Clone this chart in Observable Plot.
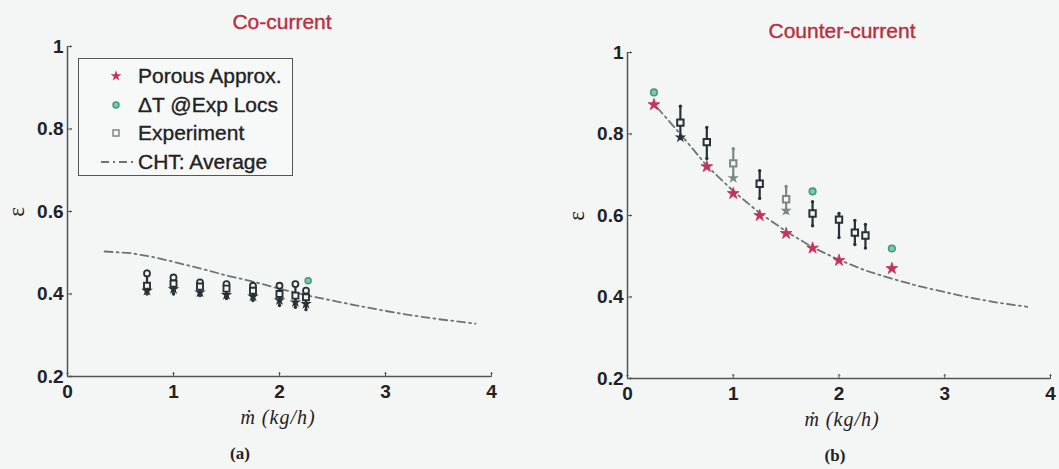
<!DOCTYPE html>
<html>
<head>
<meta charset="utf-8">
<script src="https://cdn.jsdelivr.net/npm/d3@7"></script>
<script src="https://cdn.jsdelivr.net/npm/@observablehq/plot@0.6"></script>
<style>
  html, body { margin: 0; padding: 0; background: #f4f5f5; }
  #root { position: relative; width: 1059px; height: 469px; overflow: hidden; font-family: "Liberation Sans", Arial, sans-serif; }
  .abs { position: absolute; }
  .title { color: #b9303f; font-size: 21px; transform: translateX(-50%); white-space: nowrap; -webkit-text-stroke: 0.4px #b9303f; }
  .xlab { font-family: "Liberation Serif", "DejaVu Serif", serif; font-style: italic; font-size: 20px; line-height: 1.1; color: #222; transform: translateX(-50%); white-space: nowrap; letter-spacing: 1px; }
  .ylab { font-family: "Liberation Serif", "DejaVu Serif", serif; font-size: 23px; color: #222; transform: translate(-50%, -50%) rotate(-90deg); line-height: 1; }
  .sub { font-family: "Liberation Serif", "DejaVu Serif", serif; font-weight: bold; font-size: 17px; line-height: 1.1; color: #222; transform: translateX(-50%); }
  .legend { width: 213px; height: 116px; border: 1.5px solid #555; background: #f7f8f8; }
  .legend .row { position: absolute; left: 0; height: 24px; display: flex; align-items: center; font-size: 21px; color: #222; -webkit-text-stroke: 0.35px #222; }
  .legend .row svg { position: absolute; left: 22px; }
  .legend .row span { position: absolute; left: 59px; white-space: nowrap; }
</style>
</head>
<body>
<div id="root"></div>
<script>
// ---------- data ----------
const xTicks = [0, 1, 2, 3, 4];
const yTicks = [0.2, 0.4, 0.6, 0.8, 1];

// (a) Co-current
const coTitle = "Co-current";
const coM      = [0.75, 1.0, 1.25, 1.5, 1.75, 2.0, 2.15, 2.25];
const coExp    = [0.420, 0.425, 0.418, 0.413, 0.408, 0.400, 0.396, 0.392];
const coExpHi  = [0.455, 0.445, 0.432, 0.428, 0.423, 0.425, 0.428, 0.412];
const coExpLo  = [0.400, 0.400, 0.396, 0.389, 0.384, 0.372, 0.368, 0.362];
const coDTm    = [0.75, 1.0, 1.25, 1.5, 1.75, 2.0, 2.15, 2.25];
const coDT     = [0.450, 0.440, 0.428, 0.424, 0.420, 0.420, 0.424, 0.408];
const coDTextraM = [2.27];
const coDTextra  = [0.432];
const coPorM   = [0.75, 1.0, 1.25, 1.5, 1.75, 2.0, 2.15, 2.25];
const coPor    = [0.408, 0.412, 0.404, 0.398, 0.394, 0.385, 0.380, 0.376];
const coChtM   = [0.35, 0.6, 0.8, 1.0, 1.25, 1.5, 1.75, 2.0, 2.25, 2.5, 2.75, 3.0, 3.25, 3.5, 3.85];
const coCht    = [0.503, 0.499, 0.490, 0.478, 0.462, 0.445, 0.430, 0.413, 0.397, 0.384, 0.371, 0.359, 0.348, 0.339, 0.328];

// (b) Counter-current
const ctTitle = "Counter-current";
const ctPorM  = [0.25, 0.75, 1.0, 1.25, 1.5, 1.75, 2.0, 2.5];
const ctPor   = [0.872, 0.720, 0.654, 0.600, 0.556, 0.520, 0.490, 0.470];
const ctDTm   = [0.25, 1.75, 2.5];
const ctDT    = [0.902, 0.659, 0.519];
const ctExpM  = [0.5, 0.75, 1.0, 1.25, 1.5, 1.75, 2.0, 2.15, 2.25];
const ctExp   = [0.828, 0.780, 0.728, 0.678, 0.640, 0.605, 0.590, 0.558, 0.551];
const ctExpHi = [0.868, 0.816, 0.764, 0.710, 0.671, 0.634, 0.605, 0.588, 0.578];
const ctExpLo = [0.789, 0.740, 0.690, 0.642, 0.607, 0.575, 0.546, 0.529, 0.520];
const ctRun   = ["A", "A", "B", "A", "B", "A", "A", "A", "A"];
const ctStarM = [0.5, 1.0, 1.5];
const ctStar  = [0.792, 0.692, 0.612];
const ctStarRun = ["A", "B", "B"];
const ctChtM  = [0.28, 0.5, 0.75, 1.0, 1.25, 1.5, 1.75, 2.0, 2.25, 2.5, 2.75, 3.0, 3.25, 3.5, 3.78];
const ctCht   = [0.865, 0.800, 0.722, 0.660, 0.606, 0.561, 0.522, 0.491, 0.465, 0.445, 0.427, 0.412, 0.398, 0.386, 0.376];

const legendLabels = ["Porous Approx.", "ΔT @Exp Locs", "Experiment", "CHT: Average"];

// ---------- style ----------
const RED = "#c3335a", GREEN = "#3f9c7e", GREEN_FILL = "#86c4ac", DARK = "#2a3135", GREY = "#7f8787", LINE = "#6d7474";
const DASH = "8,4,2,4";
const runColor = {A: DARK, B: GREY};

const zip = (xs, ys, extra = {}) => xs.map((x, i) => {
  const o = {x, y: ys[i]};
  for (const k in extra) o[k] = extra[k][i];
  return o;
});

function panel({width, height, marginLeft, marginRight, marginTop, marginBottom, marks}) {
  return Plot.plot({
    width, height, marginLeft, marginRight, marginTop, marginBottom,
    style: {background: "transparent", fontFamily: "Liberation Sans, Arial, sans-serif", fontSize: "19px", color: "#222", overflow: "visible"},
    x: {domain: [0, 4]},
    y: {domain: [0.2, 1]},
    marks: [
      Plot.axisX(xTicks, {tickSize: 0, tickPadding: 8, label: null, tickFormat: d => String(d), fontWeight: "bold", fill: "#222"}),
      Plot.axisY(yTicks, {tickSize: 0, tickPadding: 4, label: null, tickFormat: d => d === 1 ? "1" : d.toFixed(1), fontWeight: "bold", fill: "#222"}),
      Plot.vector(xTicks, {x: d => d, y: 0.2, length: 4, rotate: 0, anchor: "start", stroke: "#555", strokeWidth: 1}),
      Plot.vector(yTicks, {x: 0, y: d => d, length: 4, rotate: 90, anchor: "start", stroke: "#555", strokeWidth: 1}),
      Plot.ruleX([0], {y1: 0.2, y2: 1, stroke: "#555", strokeWidth: 1.5}),
      Plot.ruleY([0.2], {x1: 0, x2: 4, stroke: "#555", strokeWidth: 1.5}),
      ...marks
    ]
  });
}

// ---------- (a) ----------
const coExpData = zip(coM, coExp, {hi: coExpHi, lo: coExpLo});
const aPlot = panel({
  width: 530, height: 420, marginLeft: 67, marginRight: 39, marginTop: 46, marginBottom: 44,
  marks: [
    Plot.line(zip(coChtM, coCht), {x: "x", y: "y", stroke: LINE, strokeWidth: 1.8, strokeDasharray: DASH}),
    Plot.ruleX(coExpData, {x: "x", y1: "lo", y2: "hi", stroke: DARK, strokeWidth: 2.2}),
    Plot.dot(coExpData, {x: "x", y: "hi", r: 1.7, fill: DARK}),
    Plot.dot(coExpData, {x: "x", y: "lo", r: 1.7, fill: DARK}),
    Plot.dot(zip(coPorM, coPor), {x: "x", y: "y", symbol: "star", r: 3.6, fill: DARK}),
    Plot.dot(zip(coDTm, coDT), {x: "x", y: "y", r: 3, fill: "#f4f5f5", stroke: DARK, strokeWidth: 1.8}),
    Plot.dot(zip(coDTextraM, coDTextra), {x: "x", y: "y", r: 3, fill: GREEN_FILL, stroke: GREEN, strokeWidth: 1.5}),
    Plot.dot(coExpData, {x: "x", y: "y", symbol: "square", r: 3.4, fill: "#f4f5f5", stroke: DARK, strokeWidth: 1.9})
  ]
});

// ---------- (b) ----------
const ctExpData = zip(ctExpM, ctExp, {hi: ctExpHi, lo: ctExpLo, run: ctRun});
const bPlot = panel({
  width: 529, height: 420, marginLeft: 97, marginRight: 9, marginTop: 52, marginBottom: 42,
  marks: [
    Plot.line(zip(ctChtM, ctCht), {x: "x", y: "y", stroke: LINE, strokeWidth: 1.8, strokeDasharray: DASH}),
    Plot.dot(zip(ctPorM, ctPor), {x: "x", y: "y", symbol: "star", r: 3.7, fill: RED, stroke: RED, strokeWidth: 0.8}),
    Plot.dot(zip(ctDTm, ctDT), {x: "x", y: "y", r: 3.3, fill: GREEN_FILL, stroke: GREEN, strokeWidth: 1.6}),
    Plot.ruleX(ctExpData, {x: "x", y1: "lo", y2: "hi", stroke: d => runColor[d.run], strokeWidth: 2.2}),
    Plot.dot(ctExpData, {x: "x", y: "hi", r: 1.7, fill: d => runColor[d.run]}),
    Plot.dot(ctExpData, {x: "x", y: "lo", r: 1.7, fill: d => runColor[d.run]}),
    Plot.dot(zip(ctStarM, ctStar, {run: ctStarRun}), {x: "x", y: "y", symbol: "star", r: 3.6, fill: d => runColor[d.run]}),
    Plot.dot(ctExpData, {x: "x", y: "y", symbol: "square", r: 3.6, fill: "#f4f5f5", stroke: d => runColor[d.run], strokeWidth: 2})
  ]
});

// ---------- assemble ----------
const root = document.getElementById("root");
function place(el, left, top) { el.classList.add("abs"); el.style.left = left + "px"; el.style.top = top + "px"; root.appendChild(el); return el; }
function text(cls, str, left, top) { const d = document.createElement("div"); d.className = cls; d.textContent = str; return place(d, left, top); }

place(aPlot, 0, 0);
place(bPlot, 530, 0);

text("title", coTitle, 282, 10);
text("title", ctTitle, 842, 19);
text("xlab", "ṁ (kg/h)", 278, 406);
text("xlab", "ṁ (kg/h)", 842, 408);
text("ylab", "ε", 16, 212);
text("ylab", "ε", 576, 216);
text("sub", "(a)", 240, 445);
text("sub", "(b)", 835, 447);

// legend
const legend = document.createElement("div");
legend.className = "legend";
place(legend, 78, 58);
const NS = "http://www.w3.org/2000/svg";
const symbols = [
  g => { const p = document.createElementNS(NS, "path"); p.setAttribute("d", d3.symbol(d3.symbolStar, 36)()); p.setAttribute("transform", "translate(15,12)"); p.setAttribute("fill", RED); g.appendChild(p); },
  g => { const c = document.createElementNS(NS, "circle"); c.setAttribute("cx", 15); c.setAttribute("cy", 12); c.setAttribute("r", 3); c.setAttribute("fill", GREEN_FILL); c.setAttribute("stroke", GREEN); c.setAttribute("stroke-width", 1.5); g.appendChild(c); },
  g => { const r = document.createElementNS(NS, "rect"); r.setAttribute("x", 12); r.setAttribute("y", 9); r.setAttribute("width", 6); r.setAttribute("height", 6); r.setAttribute("fill", "none"); r.setAttribute("stroke", GREY); r.setAttribute("stroke-width", 1.5); g.appendChild(r); },
  g => { const l = document.createElementNS(NS, "line"); l.setAttribute("x1", 0); l.setAttribute("x2", 32); l.setAttribute("y1", 12); l.setAttribute("y2", 12); l.setAttribute("stroke", LINE); l.setAttribute("stroke-width", 1.8); l.setAttribute("stroke-dasharray", DASH); g.appendChild(l); }
];
legendLabels.forEach((lab, i) => {
  const row = document.createElement("div");
  row.className = "row";
  row.style.top = (5 + i * 28.5) + "px";
  const svg = document.createElementNS(NS, "svg");
  svg.setAttribute("width", 32); svg.setAttribute("height", 24);
  symbols[i](svg);
  row.appendChild(svg);
  const s = document.createElement("span");
  s.textContent = lab;
  row.appendChild(s);
  legend.appendChild(row);
});
</script>
</body>
</html>
